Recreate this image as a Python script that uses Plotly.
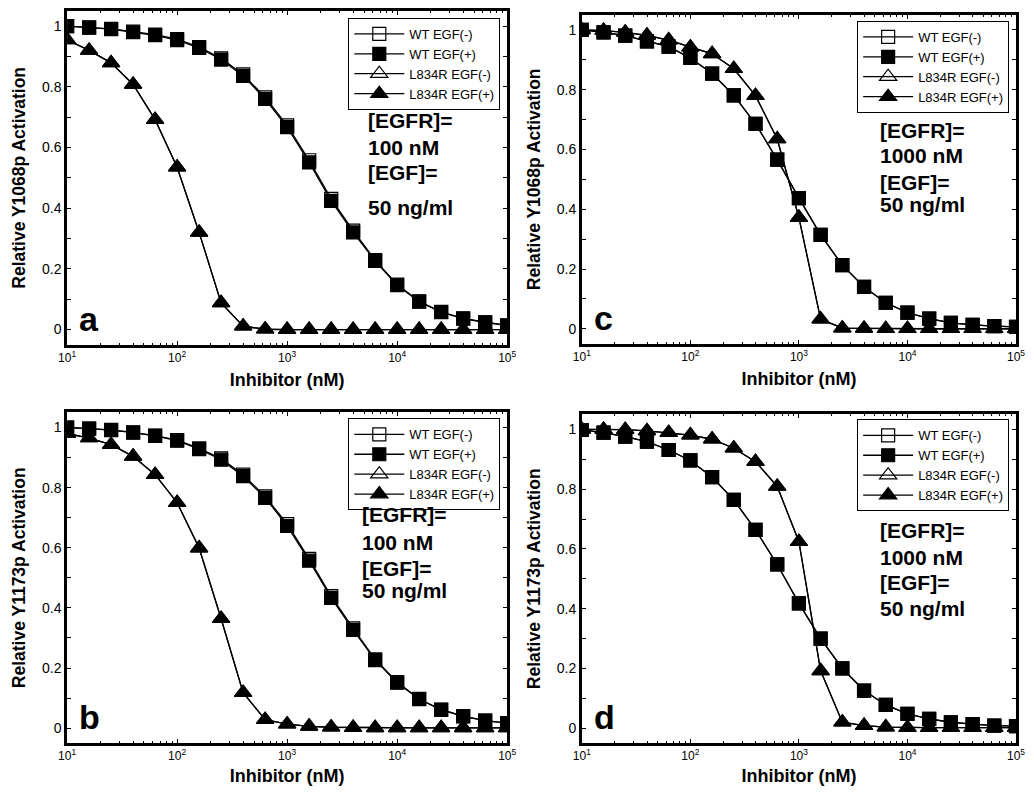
import plotly.graph_objects as go

# inhibitor concentrations (nM), 5 points per decade
inhibitor = [10, 15.85, 25.12, 39.81, 63.1, 100, 158.5, 251.2, 398.1, 631, 1000,
             1585, 2512, 3981, 6310, 10000, 15849, 25119, 39811, 63096, 100000]

# panel a: Y1068p, [EGFR]=100 nM
a_wt_minus = [1.0, 0.996, 0.991, 0.982, 0.972, 0.957, 0.931, 0.894, 0.841, 0.765, 0.673,
              0.558, 0.431, 0.326, 0.229, 0.148, 0.093, 0.058, 0.037, 0.024, 0.014]
a_wt_plus = [1.0, 0.995, 0.99, 0.98, 0.97, 0.954, 0.928, 0.89, 0.836, 0.76, 0.667,
             0.551, 0.424, 0.32, 0.226, 0.146, 0.092, 0.057, 0.036, 0.024, 0.013]
a_mut_minus = [0.955, 0.92, 0.879, 0.808, 0.692, 0.535, 0.32, 0.088, 0.011, 0.001, 0.0,
               0.0, 0.0, 0.0, 0.0, 0.0, 0.0, 0.0, 0.0, 0.0, 0.0]
a_mut_plus = [0.955, 0.92, 0.879, 0.808, 0.692, 0.535, 0.32, 0.088, 0.011, 0.001, 0.0,
              0.0, 0.0, 0.0, 0.0, 0.0, 0.0, 0.0, 0.0, 0.0, 0.0]

# panel b: Y1173p, [EGFR]=100 nM
b_wt_minus = [1.0, 0.996, 0.992, 0.984, 0.973, 0.958, 0.931, 0.897, 0.843, 0.771, 0.679,
              0.563, 0.439, 0.332, 0.229, 0.153, 0.097, 0.062, 0.04, 0.025, 0.017]
b_wt_plus = [1.0, 0.996, 0.991, 0.983, 0.972, 0.956, 0.928, 0.893, 0.838, 0.766, 0.673,
             0.557, 0.433, 0.327, 0.226, 0.151, 0.096, 0.061, 0.039, 0.025, 0.017]
b_mut_minus = [0.98, 0.965, 0.943, 0.904, 0.843, 0.75, 0.599, 0.364, 0.118, 0.028, 0.013,
               0.006, 0.003, 0.002, 0.001, 0.001, 0.001, 0.001, 0.001, 0.001, 0.001]
b_mut_plus = [0.98, 0.965, 0.943, 0.904, 0.843, 0.75, 0.599, 0.364, 0.118, 0.028, 0.013,
              0.006, 0.003, 0.002, 0.001, 0.001, 0.001, 0.001, 0.001, 0.001, 0.001]

# panel c: Y1068p, [EGFR]=1000 nM
c_wt_minus = [1.0, 0.992, 0.981, 0.962, 0.944, 0.906, 0.854, 0.781, 0.686, 0.566, 0.437,
              0.314, 0.213, 0.14, 0.087, 0.054, 0.034, 0.02, 0.013, 0.009, 0.006]
c_wt_plus = [1.0, 0.992, 0.981, 0.962, 0.944, 0.906, 0.854, 0.781, 0.686, 0.566, 0.437,
             0.314, 0.213, 0.14, 0.087, 0.054, 0.034, 0.02, 0.013, 0.009, 0.006]
c_mut_minus = [1.0, 0.998, 0.992, 0.982, 0.966, 0.942, 0.92, 0.87, 0.78, 0.635, 0.372,
               0.032, 0.002, 0.001, 0.0, 0.0, 0.0, 0.0, 0.0, 0.0, 0.0]
c_mut_plus = [1.0, 0.998, 0.992, 0.982, 0.966, 0.942, 0.92, 0.87, 0.78, 0.635, 0.372,
              0.032, 0.002, 0.001, 0.0, 0.0, 0.0, 0.0, 0.0, 0.0, 0.0]

# panel d: Y1173p, [EGFR]=1000 nM
d_wt_minus = [0.998, 0.989, 0.976, 0.959, 0.931, 0.896, 0.84, 0.764, 0.664, 0.548, 0.418,
              0.3, 0.2, 0.126, 0.078, 0.048, 0.031, 0.02, 0.014, 0.009, 0.007]
d_wt_plus = [0.998, 0.989, 0.976, 0.959, 0.931, 0.896, 0.84, 0.764, 0.664, 0.548, 0.418,
             0.3, 0.2, 0.126, 0.078, 0.048, 0.031, 0.02, 0.014, 0.009, 0.007]
d_mut_minus = [1.0, 1.0, 0.999, 0.995, 0.989, 0.981, 0.967, 0.937, 0.892, 0.809, 0.624,
               0.192, 0.02, 0.009, 0.004, 0.002, 0.002, 0.002, 0.002, 0.002, 0.002]
d_mut_plus = [1.0, 1.0, 0.999, 0.995, 0.989, 0.981, 0.967, 0.937, 0.892, 0.809, 0.624,
              0.192, 0.02, 0.009, 0.004, 0.002, 0.002, 0.002, 0.002, 0.002, 0.002]

series_names = ["WT EGF(-)", "WT EGF(+)", "L834R EGF(-)", "L834R EGF(+)"]
x_ticks = [10, 100, 1000, 10000, 100000]
x_ticktext = ["10<sup>1</sup>", "10<sup>2</sup>", "10<sup>3</sup>", "10<sup>4</sup>", "10<sup>5</sup>"]
y_ticks = [0, 0.1, 0.2, 0.3, 0.4, 0.5, 0.6, 0.7, 0.8, 0.9, 1.0]
y_ticktext = ["0", "", "0.2", "", "0.4", "", "0.6", "", "0.8", "", "1"]

# page body has an 8px margin, so the figure is drawn 8px in from the window corner
OFF = 8
W, H = 1034 - 2 * OFF, 794 - 2 * OFF
FONT = "Liberation Sans, Arial, sans-serif"


def px_x(p):
    return (p - OFF) / W


def px_y(p):
    return 1 - (p - OFF) / H


# panel frames in window pixels: left, right, top, bottom
panels = [
    dict(letter="a", ylab="Relative Y1068p Activation", box=(59, 507, 8, 343),
         data=[a_wt_minus, a_wt_plus, a_mut_minus, a_mut_plus],
         conc="100 nM", txt_x=363, txt_y=[118, 145, 170, 205], legend=(500, 15)),
    dict(letter="c", ylab="Relative Y1068p Activation", box=(583, 1025, 12, 342),
         data=[c_wt_minus, c_wt_plus, c_mut_minus, c_mut_plus],
         conc="1000 nM", txt_x=885, txt_y=[128, 153, 180, 202], legend=(1018, 18)),
    dict(letter="b", ylab="Relative Y1173p Activation", box=(59, 507, 411, 743),
         data=[b_wt_minus, b_wt_plus, b_mut_minus, b_mut_plus],
         conc="100 nM", txt_x=357, txt_y=[513, 542, 568, 590], legend=(500, 417)),
    dict(letter="d", ylab="Relative Y1173p Activation", box=(583, 1025, 413, 743),
         data=[d_wt_minus, d_wt_plus, d_mut_minus, d_mut_plus],
         conc="1000 nM", txt_x=885, txt_y=[530, 557, 582, 608], legend=(1018, 418)),
]

symbols = ["square-open", "square", "triangle-up-open", "triangle-up"]
sizes = [13, 13, 15, 15]

fig = go.Figure()
layout = dict(width=W, height=H, margin=dict(l=0, r=0, t=0, b=0),
              paper_bgcolor="white", plot_bgcolor="white",
              font=dict(family=FONT, color="black"), annotations=[])

for i, p in enumerate(panels):
    n = i + 1
    xa = "x" if n == 1 else f"x{n}"
    ya = "y" if n == 1 else f"y{n}"
    leg = "legend" if n == 1 else f"legend{n}"
    for k in range(4):
        fig.add_trace(go.Scatter(
            x=inhibitor, y=p["data"][k], mode="lines+markers", name=series_names[k],
            xaxis=xa, yaxis=ya, legend=leg,
            line=dict(color="black", width=1.3),
            marker=dict(symbol=symbols[k], size=sizes[k], color="black",
                        line=dict(color="black", width=1.2)),
        ))
    l, r, t, b = p["box"]
    axis_common = dict(showline=True, linecolor="black", linewidth=2.5, mirror="ticks",
                       ticks="inside", tickcolor="black", showgrid=False, zeroline=False)
    layout["xaxis" if n == 1 else f"xaxis{n}"] = dict(
        axis_common, type="log", range=[1, 5], domain=[px_x(l), px_x(r)], anchor=ya,
        tickmode="array", tickvals=x_ticks, ticktext=x_ticktext, ticklen=4,
        tickfont=dict(size=12),
        minor=dict(ticks="inside", ticklen=2, tickcolor="black",
                   tickvals=[m * d for d in [10, 100, 1000, 10000] for m in range(2, 10)]),
        title=dict(text="<b>Inhibitor (nM)</b>", font=dict(size=18), standoff=10),
    )
    layout["yaxis" if n == 1 else f"yaxis{n}"] = dict(
        axis_common, range=[-0.05, 1.05], domain=[px_y(b), px_y(t)], anchor=xa,
        tickmode="array", tickvals=y_ticks, ticktext=y_ticktext, ticklen=4,
        tickfont=dict(size=14),
        title=dict(text=f"<b>{p['ylab']}</b>", font=dict(size=17.5), standoff=12),
    )
    lx, ly = p["legend"]
    layout[leg] = dict(x=px_x(lx), y=px_y(ly), xanchor="right", yanchor="top",
                       xref="paper", yref="paper",
                       bgcolor="white", bordercolor="black", borderwidth=1,
                       font=dict(size=13, family=FONT), itemwidth=50,
                       tracegroupgap=0)
    lines = ["[EGFR]=", p["conc"], "[EGF]=", "50 ng/ml"]
    for txt, ty in zip(lines, p["txt_y"]):
        layout["annotations"].append(dict(
            text=f"<b>{txt}</b>", x=px_x(p["txt_x"]), y=px_y(ty), xref="paper", yref="paper",
            xanchor="left", yanchor="middle", showarrow=False, font=dict(size=21)))
    layout["annotations"].append(dict(
        text=f"<b>{p['letter']}</b>", x=px_x(l + 10), y=px_y(b - 26), xref="paper", yref="paper",
        xanchor="left", yanchor="middle", showarrow=False, font=dict(size=34)))

fig.update_layout(**layout)
fig.write_html("out.html")
